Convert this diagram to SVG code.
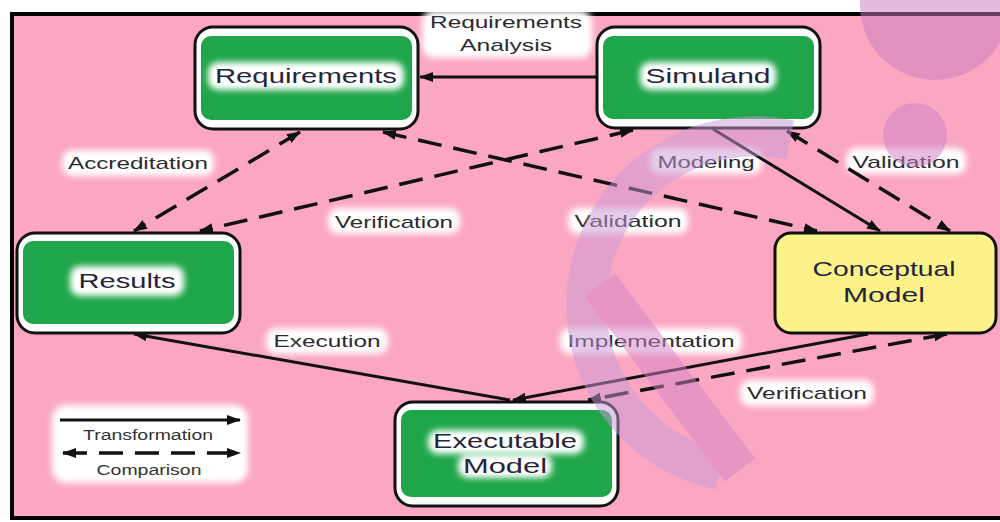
<svg xmlns="http://www.w3.org/2000/svg" width="1000" height="522" viewBox="0 0 1000 522">
<defs>
<filter id="blur" x="-20%" y="-40%" width="140%" height="180%"><feGaussianBlur stdDeviation="3"/></filter>
<marker id="ah" viewBox="0 0 14 10" refX="13" refY="5" markerWidth="14" markerHeight="10" markerUnits="userSpaceOnUse" orient="auto-start-reverse"><path d="M0,0 L14,5 L0,10 Z" fill="#111"/></marker>
<style>
.frame{fill:#fca7c2;stroke:#000;stroke-width:4}
.box{stroke:#111;stroke-width:3;fill:#fff}
.green{fill:#1fa64a}
.yellow{fill:#fbf38a}
.halo{fill:#fff;filter:url(#blur)}
.nt{font-family:"Liberation Sans",Arial,sans-serif;font-size:21px;fill:#25253a;text-anchor:middle}
.lt{font-family:"Liberation Sans",Arial,sans-serif;font-size:17px;fill:#2a2a33;text-anchor:middle}
.gt{font-family:"Liberation Sans",Arial,sans-serif;font-size:14px;fill:#333;text-anchor:middle}
.solid{fill:none;stroke:#111;stroke-width:3}
.dash{fill:none;stroke:#111;stroke-width:3.5;stroke-dasharray:24 12}
.wm{opacity:0.5}
</style>
</defs>
<rect x="0" y="0" width="1000" height="522" fill="#fff"/>
<rect class="frame" x="12" y="14" width="992" height="504"/>

<g id="label-halos">
<rect class="halo" x="422" y="10" width="170" height="48" rx="12"/>
<rect class="halo" x="62" y="150" width="152" height="26" rx="10"/>
<rect class="halo" x="328" y="208" width="132" height="26" rx="10"/>
<rect class="halo" x="650" y="148" width="112" height="26" rx="10"/>
<rect class="halo" x="846" y="148" width="120" height="26" rx="10"/>
<rect class="halo" x="568" y="208" width="120" height="26" rx="10"/>
<rect class="halo" x="266" y="328" width="122" height="26" rx="10"/>
<rect class="halo" x="560" y="328" width="182" height="26" rx="10"/>
<rect class="halo" x="740" y="380" width="134" height="26" rx="10"/>
<rect class="halo" x="52" y="405" width="196" height="78" rx="14"/>
</g>

<g id="connectors">
<line class="solid" x1="597" y1="77" x2="420" y2="77" marker-end="url(#ah)"/>
<line class="dash" x1="300" y1="132" x2="134" y2="231" marker-start="url(#ah)" marker-end="url(#ah)"/>
<line class="dash" x1="633" y1="130" x2="200" y2="231" marker-start="url(#ah)" marker-end="url(#ah)"/>
<line class="dash" x1="383" y1="132" x2="817" y2="231" marker-start="url(#ah)" marker-end="url(#ah)"/>
<line class="solid" x1="713" y1="129" x2="880" y2="231" marker-end="url(#ah)"/>
<line class="dash" x1="787" y1="131" x2="950" y2="231" marker-start="url(#ah)" marker-end="url(#ah)"/>
<line class="solid" x1="868" y1="334" x2="513" y2="400" marker-end="url(#ah)"/>
<line class="dash" x1="947" y1="334" x2="588" y2="400" marker-start="url(#ah)" marker-end="url(#ah)"/>
<line class="solid" x1="510" y1="400" x2="134" y2="334" marker-end="url(#ah)"/>
<line class="solid" x1="60" y1="420" x2="240" y2="420" marker-end="url(#ah)"/>
<line class="dash" x1="63" y1="453" x2="240" y2="453" stroke-dasharray="20 12" marker-start="url(#ah)" marker-end="url(#ah)"/>
</g>

<g id="connector-labels">
<text class="lt" x="506" y="28" textLength="152" lengthAdjust="spacingAndGlyphs">Requirements</text>
<text class="lt" x="506" y="51" textLength="92" lengthAdjust="spacingAndGlyphs">Analysis</text>
<text class="lt" x="138" y="169" textLength="140" lengthAdjust="spacingAndGlyphs">Accreditation</text>
<text class="lt" x="394" y="228" textLength="118" lengthAdjust="spacingAndGlyphs">Verification</text>
<text class="lt" x="706" y="168" textLength="97" lengthAdjust="spacingAndGlyphs">Modeling</text>
<text class="lt" x="906" y="168" textLength="107" lengthAdjust="spacingAndGlyphs">Validation</text>
<text class="lt" x="628" y="227" textLength="107" lengthAdjust="spacingAndGlyphs">Validation</text>
<text class="lt" x="327" y="347" textLength="107" lengthAdjust="spacingAndGlyphs">Execution</text>
<text class="lt" x="651" y="347" textLength="167" lengthAdjust="spacingAndGlyphs">Implementation</text>
<text class="lt" x="807" y="399" textLength="120" lengthAdjust="spacingAndGlyphs">Verification</text>
<text class="gt" x="148" y="440" textLength="130" lengthAdjust="spacingAndGlyphs">Transformation</text>
<text class="gt" x="149" y="475" textLength="105" lengthAdjust="spacingAndGlyphs">Comparison</text>
</g>

<g id="node-requirements">
<rect class="box" x="195" y="27" width="223" height="102" rx="18"/>
<rect class="green" x="201" y="36" width="211" height="84" rx="10"/>
<rect class="halo" x="208" y="62" width="196" height="28" rx="10"/>
<text class="nt" x="306" y="83" textLength="182" lengthAdjust="spacingAndGlyphs">Requirements</text>
</g>

<g id="node-simuland">
<rect class="box" x="597" y="27" width="223" height="101" rx="18"/>
<rect class="green" x="603" y="36" width="211" height="83" rx="10"/>
<rect class="halo" x="640" y="62" width="136" height="28" rx="10"/>
<text class="nt" x="708" y="83" textLength="125" lengthAdjust="spacingAndGlyphs">Simuland</text>
</g>

<g id="node-results">
<rect class="box" x="17" y="233" width="223" height="100" rx="18"/>
<rect class="green" x="23" y="241" width="211" height="83" rx="10"/>
<rect class="halo" x="70" y="266" width="114" height="30" rx="10"/>
<text class="nt" x="127" y="288" textLength="97" lengthAdjust="spacingAndGlyphs">Results</text>
</g>

<g id="node-conceptual">
<rect class="box yellow" x="775" y="233" width="221" height="100" rx="16"/>
<text class="nt" x="884" y="276" textLength="143" lengthAdjust="spacingAndGlyphs">Conceptual</text>
<text class="nt" x="884" y="302" textLength="82" lengthAdjust="spacingAndGlyphs">Model</text>
</g>

<g id="node-executable">
<rect class="box" x="395" y="402" width="223" height="104" rx="18"/>
<rect class="green" x="401" y="410" width="211" height="87" rx="10"/>
<rect class="halo" x="428" y="430" width="156" height="24" rx="10"/>
<rect class="halo" x="458" y="454" width="94" height="24" rx="10"/>
<text class="nt" x="505" y="448" textLength="144" lengthAdjust="spacingAndGlyphs">Executable</text>
<text class="nt" x="505" y="473" textLength="84" lengthAdjust="spacingAndGlyphs">Model</text>
</g>

<g id="watermark" class="wm">
<circle cx="935" cy="5" r="75" fill="#c77ac0"/>
<circle cx="915" cy="135" r="32" fill="#d07fc6"/>
<path d="M790,140 A150,150 0 1 0 720,470" fill="none" stroke="#c99ad8" stroke-width="40"/>
<path d="M600,285 L740,470" fill="none" stroke="#d584c6" stroke-width="38"/>
</g>
</svg>
